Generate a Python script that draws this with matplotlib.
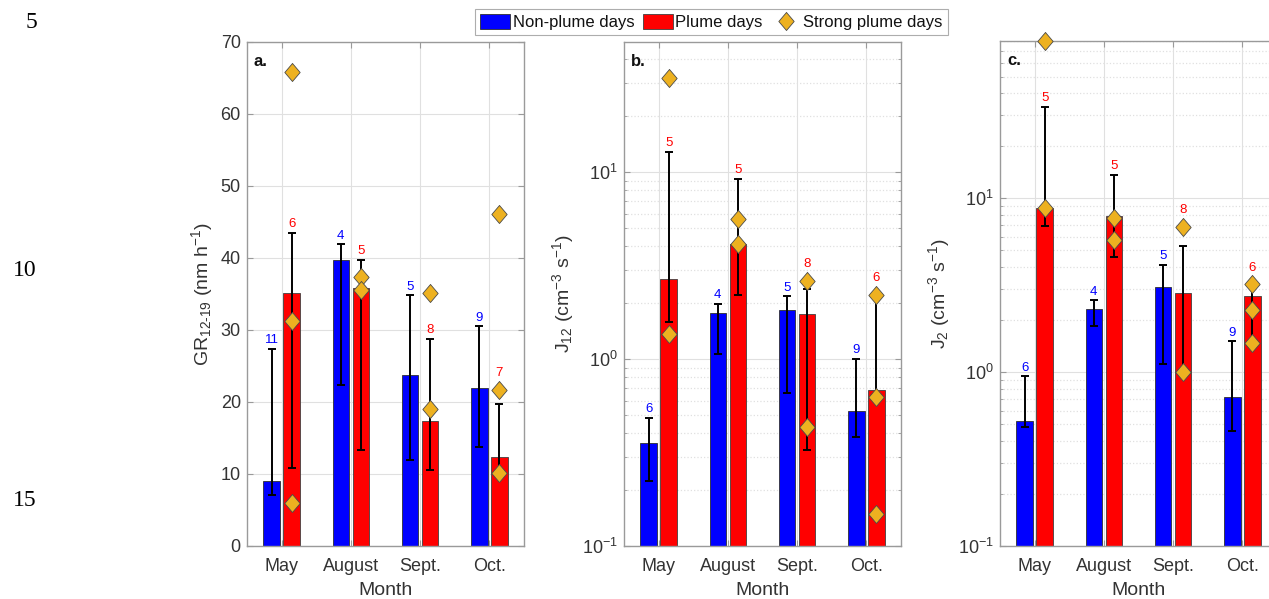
import numpy as np
import matplotlib
matplotlib.use('Agg')
import matplotlib.pyplot as plt
from matplotlib.patches import Patch
from matplotlib.lines import Line2D
from matplotlib.ticker import LogLocator, NullFormatter, MultipleLocator

plt.rcParams['font.family'] = ['Liberation Sans', 'DejaVu Sans']
plt.rcParams['mathtext.fontset'] = 'custom'
plt.rcParams['mathtext.rm'] = 'Liberation Sans'
plt.rcParams['mathtext.it'] = 'Liberation Sans:italic'
plt.rcParams['mathtext.bf'] = 'Liberation Sans:bold'

# ---------------------------------------------------------------------------
# Data
# ---------------------------------------------------------------------------
months = ['May', 'August', 'Sept.', 'Oct.']

# a. growth rate GR12-19 (nm h-1)
gr_non = [9.0, 39.7, 23.8, 22.0]
gr_non_lo = [7.1, 22.4, 11.9, 13.8]
gr_non_hi = [27.4, 41.9, 34.8, 30.5]
gr_non_n = [11, 4, 5, 9]
gr_pl = [35.2, 35.8, 17.4, 12.4]
gr_pl_lo = [10.9, 13.3, 10.6, 10.0]
gr_pl_hi = [43.5, 39.7, 28.8, 19.7]
gr_pl_n = [6, 5, 8, 7]
gr_strong = [[65.9, 31.3, 6.0], [37.3, 35.6], [35.1, 19.0], [46.1, 21.7, 10.1]]

# b. formation rate J12 (cm-3 s-1)
j12_non = [0.355, 1.76, 1.83, 0.529]
j12_non_lo = [0.223, 1.06, 0.655, 0.384]
j12_non_hi = [0.483, 1.98, 2.16, 1.0]
j12_non_n = [6, 4, 5, 9]
j12_pl = [2.68, 4.12, 1.75, 0.685]
j12_pl_lo = [1.57, 2.21, 0.327, 0.623]
j12_pl_hi = [12.8, 9.17, 2.37, 2.15]
j12_pl_n = [5, 5, 8, 6]
j12_strong = [[32.0, 1.36], [5.6, 4.12], [2.62, 0.435], [2.2, 0.623, 0.148]]

# c. formation rate J2 (cm-3 s-1)
j2_non = [0.52, 2.31, 3.10, 0.718]
j2_non_lo = [0.483, 1.85, 1.11, 0.46]
j2_non_hi = [0.944, 2.58, 4.14, 1.50]
j2_non_n = [6, 4, 5, 9]
j2_pl = [8.76, 7.84, 2.84, 2.72]
j2_pl_lo = [6.93, 4.56, 1.0, 1.47]
j2_pl_hi = [33.3, 13.6, 5.32, 3.2]
j2_pl_n = [5, 5, 8, 6]
j2_strong = [[80.2, 8.76], [7.68, 5.71], [6.81, 1.0], [3.2, 2.28, 1.47]]

# ---------------------------------------------------------------------------
# Style
# ---------------------------------------------------------------------------
BLUE = '#0000ff'
RED = '#ff0000'
GOLD = '#EDB120'
AX_GRAY = '#9a9a9a'
TXT = '#333333'
GRID = '#e0e0e0'
DIAMOND = [(0, 1), (0.85, 0), (0, -1), (-0.85, 0), (0, 1)]
D_SIZE = 13

W, H = 1269, 599
fig = plt.figure(figsize=(W / 100, H / 100), dpi=100)


def px_axes(left, right, top=42, bottom=546):
    return fig.add_axes([left / W, 1 - bottom / H, (right - left) / W, (bottom - top) / H])


def label_anchor(ax, hi, strong_vals):
    """Count label sits above the error bar, or above a diamond right on top of it."""
    ypx = lambda v: ax.transData.transform((0, v))[1]
    top, on_diamond = hi, False
    for s in strong_vals:
        if s >= hi and ypx(s) - ypx(hi) < 25:
            top, on_diamond = s, True
    return top, on_diamond


def draw_panel(ax, non, non_lo, non_hi, non_n, pl, pl_lo, pl_hi, pl_n, strong,
               ylim, log, letter, ylabel):
    x = np.arange(1, len(months) + 1)
    dx, w = 0.145, 0.24
    non, pl = np.array(non), np.array(pl)

    if log:
        ax.set_yscale('log')
    ax.set_xlim(0.5, 4.5)
    ax.set_ylim(*ylim)

    ax.bar(x - dx, non, w, color=BLUE, edgecolor='#303030', lw=0.6, zorder=2)
    ax.bar(x + dx, pl, w, color=RED, edgecolor='#404040', lw=0.6, zorder=2)
    ekw = dict(fmt='none', ecolor='k', elinewidth=1.4, capsize=2.6, capthick=1.4, zorder=3)
    ax.errorbar(x - dx, non, yerr=[non - np.array(non_lo), np.array(non_hi) - non], **ekw)
    ax.errorbar(x + dx, pl, yerr=[pl - np.array(pl_lo), np.array(pl_hi) - pl], **ekw)

    for xi, s in zip(x, strong):
        ax.plot([xi + dx] * len(s), s, ls='none', marker=DIAMOND, ms=D_SIZE,
                mfc=GOLD, mec='#4a4a4a', mew=0.6, zorder=4, clip_on=False)

    for xi, hi, n in zip(x, non_hi, non_n):
        ax.annotate(str(n), (xi - dx, hi), xytext=(0, 6.3), textcoords='offset points',
                    ha='center', va='center', color=BLUE, fontsize=9.5, zorder=5)
    for xi, hi, n, s in zip(x, pl_hi, pl_n, strong):
        top, on_d = label_anchor(ax, hi, s)
        ax.annotate(str(n), (xi + dx, top), xytext=(0, 12 if on_d else 6.3),
                    textcoords='offset points', ha='center', va='center',
                    color=RED, fontsize=9.5, zorder=5)

    ax.set_xticks(x)
    ax.set_xticklabels(months)
    if log:
        ax.yaxis.set_major_locator(LogLocator(base=10, numticks=10))
        ax.yaxis.set_minor_locator(LogLocator(base=10, subs=np.arange(2, 10), numticks=20))
        ax.yaxis.set_minor_formatter(NullFormatter())
        ax.grid(True, which='minor', axis='y', color=GRID, ls=':', lw=0.9)
    else:
        ax.yaxis.set_major_locator(MultipleLocator(10))
    ax.grid(True, which='major', color=GRID, lw=0.8)
    ax.set_axisbelow(True)

    ax.tick_params(which='both', direction='in', top=True, right=True,
                   color=AX_GRAY, labelcolor=TXT, labelsize=13)
    ax.tick_params(which='major', length=4)
    ax.tick_params(which='minor', length=2.5)
    ax.tick_params(axis='x', pad=8.5)
    ax.tick_params(axis='y', pad=4.5)
    for sp in ax.spines.values():
        sp.set_color(AX_GRAY)
        sp.set_linewidth(1.0)

    ax.set_xlabel('Month', fontsize=14, color=TXT, labelpad=5)
    ax.set_ylabel(ylabel, fontsize=14, color=TXT, labelpad=4)
    ax.text(0.025, 0.962, letter, transform=ax.transAxes, fontsize=12,
            fontweight='bold', color='#111111', va='center', ha='left')


ax_a = px_axes(247, 524)
draw_panel(ax_a, gr_non, gr_non_lo, gr_non_hi, gr_non_n, gr_pl, gr_pl_lo, gr_pl_hi,
           gr_pl_n, gr_strong, (0, 70), False, 'a.',
           r'GR$_{\mathrm{12\text{-}19}}$ (nm h$^{-1}$)')

ax_b = px_axes(624, 901)
draw_panel(ax_b, j12_non, j12_non_lo, j12_non_hi, j12_non_n, j12_pl, j12_pl_lo, j12_pl_hi,
           j12_pl_n, j12_strong, (0.1, 49.6), True, 'b.',
           r'J$_{\mathrm{12}}$ (cm$^{-3}$ s$^{-1}$)')

ax_c = px_axes(1000, 1277, top=41)
draw_panel(ax_c, j2_non, j2_non_lo, j2_non_hi, j2_non_n, j2_pl, j2_pl_lo, j2_pl_hi,
           j2_pl_n, j2_strong, (0.1, 80), True, 'c.',
           r'J$_{\mathrm{2}}$ (cm$^{-3}$ s$^{-1}$)')
# the right edge of panel c is cut off by the page
ax_c.spines['right'].set_visible(False)
ax_c.tick_params(which='both', right=False)

# shared legend on top
handles = [Patch(facecolor=BLUE, edgecolor='#303030', lw=0.6),
           Patch(facecolor=RED, edgecolor='#404040', lw=0.6),
           Line2D([], [], ls='none', marker=DIAMOND, ms=D_SIZE, mfc=GOLD, mec='#4a4a4a', mew=0.6)]
leg = fig.legend(handles, ['Non-plume days', 'Plume days', 'Strong plume days'],
                 loc='center', bbox_to_anchor=(711.5 / W, 1 - 22 / H), ncol=3,
                 fontsize=12, frameon=True, fancybox=False, borderpad=0.3,
                 handlelength=1.8, handleheight=1.0, handletextpad=0.15,
                 columnspacing=0.5, borderaxespad=0)
leg.get_frame().set_edgecolor('#999999')
leg.get_frame().set_linewidth(0.8)
for t in leg.get_texts():
    t.set_color('#111111')

# manuscript line numbers in the left margin
for num, ypix in zip(['5', '10', '15'], [22, 270, 500]):
    fig.text(37 / W, 1 - ypix / H, num, family='Liberation Serif', fontsize=17,
             ha='right', va='center', color='black')

fig.savefig('out.png', dpi=100)
